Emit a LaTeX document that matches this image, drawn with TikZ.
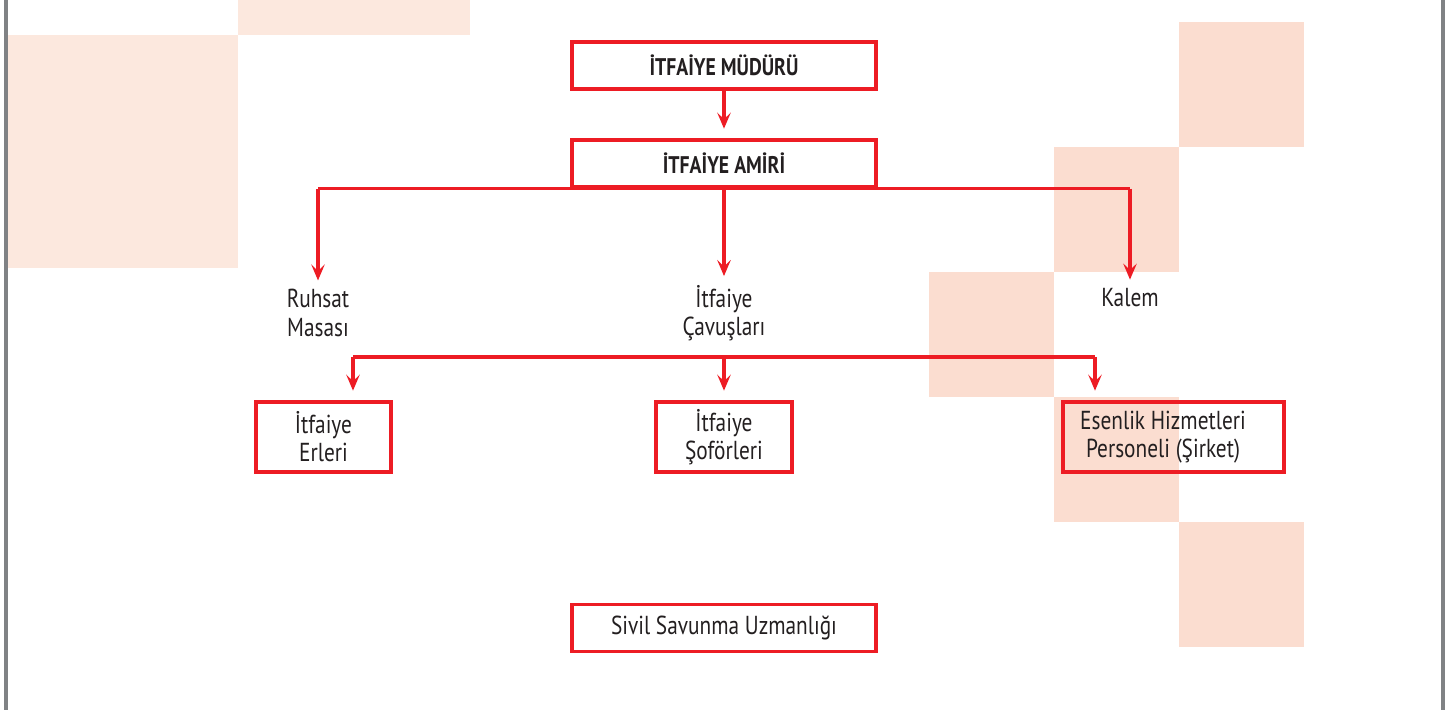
\documentclass[tikz,border=0pt]{standalone}
\usepackage{fontspec}
\setmainfont{PT Sans}[FakeStretch=0.82]
\usepackage{xcolor}
\usepackage{tikz}
\usetikzlibrary{positioning}
\usetikzlibrary{arrows.meta}

\definecolor{orgred}{HTML}{ED1C24}
\definecolor{orgtext}{HTML}{231F20}
\definecolor{peachA}{HTML}{FCE8DE}
\definecolor{peachB}{HTML}{FBDDD0}
\definecolor{frame}{HTML}{808285}

\begin{document}
\begin{tikzpicture}[x=0.02cm, y=-0.02cm,
				head/.style={rectangle, draw=orgred, line width=1.9pt, text=orgtext,
						minimum width=6.08cm, minimum height=0.94cm,
						font=\fontsize{13.7}{15}\selectfont\bfseries, text centered},
				unit/.style={rectangle, draw=orgred, line width=1.9pt, text=orgtext,
						minimum height=1.4cm, align=center,
						font=\fontsize{14.8}{16}\selectfont},
				label/.style={text=orgtext, align=center, inner sep=0pt,
						font=\fontsize{14.8}{16}\selectfont},
				link/.style={draw=orgred, line width=1.8pt},
				arr/.style={link, -{Stealth[length=3.2mm, width=2.7mm, inset=1.3mm]}}
			]
			\useasboundingbox (0,0) rectangle (1451,710);

			% background squares
			\fill[peachA] (238,0) rectangle (470,35);
			\fill[peachA] (8,35) rectangle (238,268);
			\fill[peachB] (1179,22) rectangle (1304,147);
			\fill[peachB] (1054,147) rectangle (1179,272);
			\fill[peachB] (929,272) rectangle (1054,397);
			\fill[peachB] (1054,397) rectangle (1179,522);
			\fill[peachB] (1179,522) rectangle (1304,647);

			% page frame
			\draw[frame, line width=2.3pt] (6,0) -- (6,710);
			\draw[frame, line width=2pt] (1443,0) -- (1443,710);

			% head boxes
			\node[head] (mudur) at (724,65.5) {İTFAİYE MÜDÜRÜ};
			\node[head] (amir) at (724,163.5) {İTFAİYE AMİRİ};

			% middle level (no frame)
			\node[label] (ruhsat) at (318,313) {Ruhsat\\Masası};
			\node[label] (cavus) at (724,313) {İtfaiye\\Çavuşları};
			\node[label] (kalem) at (1130,298) {Kalem};

			% lower boxes
			\node[unit, minimum width=2.7cm] (erler) at (323.5,437) {İtfaiye\\Erleri};
			\node[unit, minimum width=2.72cm] (sofor) at (724,437) {İtfaiye\\Şoförleri};
			\node[unit, minimum width=4.42cm] (esenlik) at (1173.5,437)
				{Esenlik Hizmetleri\hspace*{0.42cm}\\Personeli (Şirket)\hspace*{0.42cm}};

			\node[head, font=\fontsize{14.8}{16}\selectfont] (sivil) at (724,628) {Sivil Savunma Uzmanlığı};

			% arrows
			\draw[arr, shorten >=5.5pt] (mudur) -- (amir);
			\draw[link] (ruhsat.north |- amir.south) -- (kalem.north |- amir.south);
			\draw[arr, shorten >=5pt] (ruhsat.north |- amir.south) -- (ruhsat.north);
			\draw[arr, shorten >=5pt] (amir.south) -- (cavus.north);
			\draw[arr, shorten >=5pt] (kalem.north |- amir.south) -- (kalem.north);

			\coordinate (barL) at (353,357);
			\coordinate (barR) at (1095,357);
			\draw[link] (barL) -- (barR);
			\draw[arr, shorten >=5.5pt] (barL) -- (barL |- erler.north);
			\draw[arr, shorten >=5.5pt] (sofor.north |- barL) -- (sofor.north);
			\draw[arr, shorten >=5.5pt] (barR) -- (barR |- esenlik.north);

		\end{tikzpicture}
\end{document}
